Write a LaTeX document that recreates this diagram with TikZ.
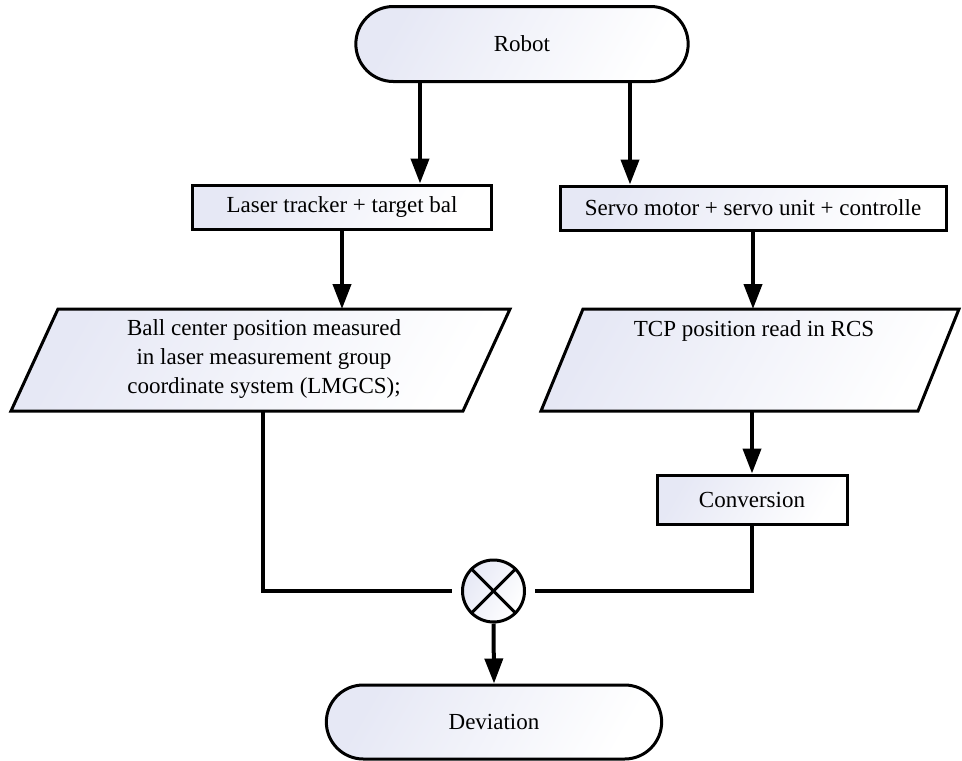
\documentclass[tikz,border=0pt]{standalone}
\usepackage{fontspec}
\setmainfont{Liberation Serif}
\usetikzlibrary{arrows.meta,shapes.misc,calc}
\definecolor{lav}{HTML}{E6E8F5}
\begin{document}
\begin{tikzpicture}[x=1pt,y=-1pt,
  font=\fontsize{23}{29}\selectfont,
  grad/.style={left color=lav, right color=white, shading angle=60},
  term/.style={rounded rectangle, draw, line width=3pt, grad},
  proc/.style={rectangle, draw, line width=3pt, grad},
  para/.style={draw, line width=3pt, line join=miter, grad},
  arr/.style={line width=4pt, -{Triangle[length=25pt,width=18pt]}},
  wire/.style={line width=4pt}
]
\useasboundingbox (0,0) rectangle (962,761);
% terminals
\node[term, minimum width=339pt, minimum height=75pt] (robot) at (522,44) {Robot};
\node[term, minimum width=342pt, minimum height=74pt] (dev) at (494,722) {Deviation};
% process boxes
\node[proc, minimum width=299pt, minimum height=44pt] (laser) at (342,207) {Laser tracker + target bal};
\node[proc, minimum width=386pt, minimum height=44pt] (servo) at (753,208) {Servo motor + servo unit + controlle};
\node[proc, minimum width=190pt, minimum height=49pt] (conv) at (752,499.5) {Conversion};
% parallelograms
\path[para] (58,309) -- (510,309) -- (463,411) -- (11,411) -- cycle;
\node[align=center] (ball) at (264,359) {Ball center position measured\\in laser measurement group\\coordinate system (LMGCS);};
\coordinate (balltop) at (342,309);
\coordinate (ballbot) at (263,411);
\path[para] (583,309) -- (959,309) -- (918,411) -- (541,411) -- cycle;
\node (tcp) at (754,331) {TCP position read in RCS};
\coordinate (tcptop) at (753,309);
\coordinate (tcpbot) at (752,411);
% multiplier
\node[circle, draw, line width=3pt, grad, minimum size=62pt, inner sep=0pt] (mul) at (493.5,591) {};
\draw[line width=3pt] (mul.north west) -- (mul.south east);
\draw[line width=3pt] (mul.north east) -- (mul.south west);
% connectors
\draw[arr] ([xshift=-102pt]robot.south) -- ([xshift=-102pt]robot.south |- laser.north);
\draw[arr] ([xshift=108pt]robot.south) -- ([xshift=108pt]robot.south |- servo.north);
\draw[arr] (laser.south) -- (balltop);
\draw[arr] (servo.south) -- (tcptop);
\draw[arr] (tcpbot) -- (conv.north);
\draw[wire] (ballbot) |- ([xshift=-9pt]mul.west);
\draw[wire] (conv.south) |- ([xshift=9pt]mul.east);
\draw[arr] (mul.south) -- (dev.north);
\end{tikzpicture}
\end{document}
